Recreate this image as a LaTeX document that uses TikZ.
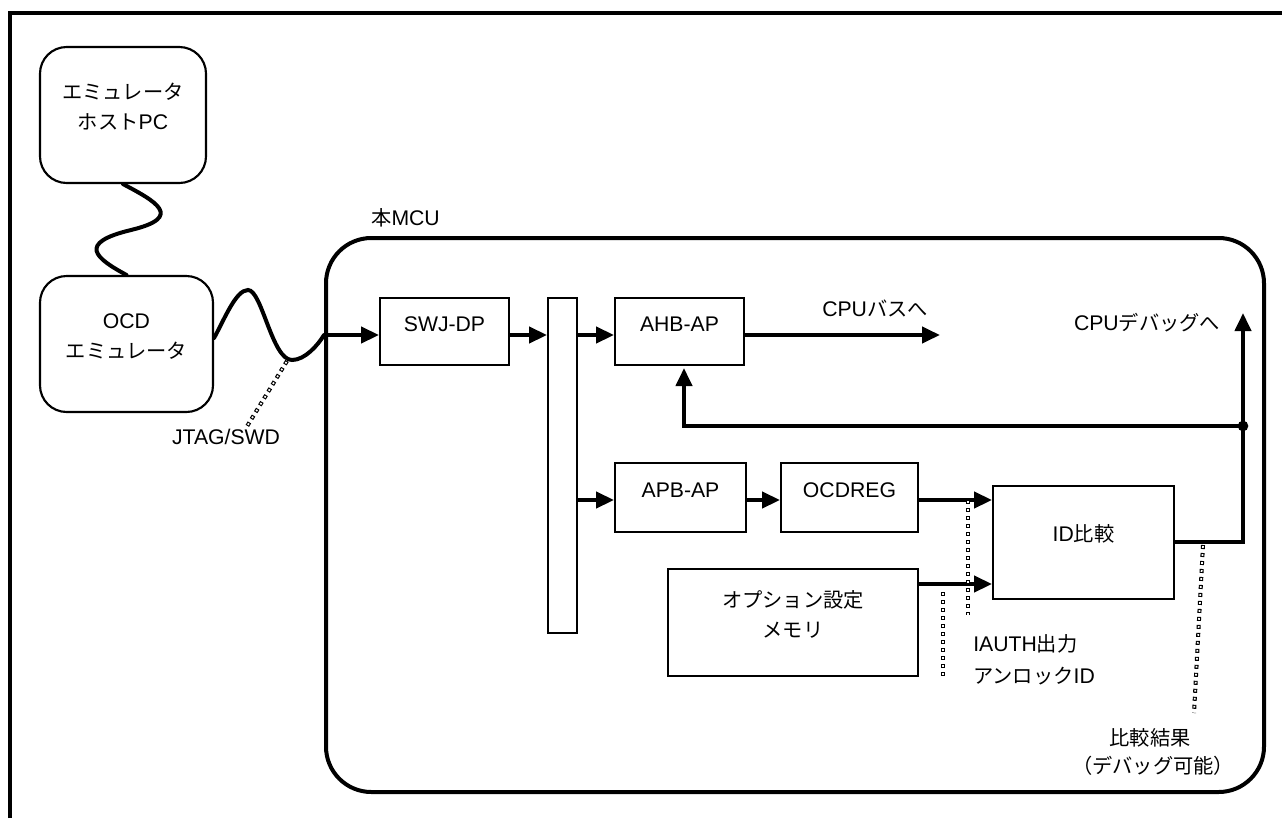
\documentclass[tikz,border=0pt]{standalone}
\usepackage{fontspec}
\setmainfont{Liberation Sans}
\newfontfamily\jpfont{Noto Sans CJK JP}[Scale=0.955]
\newcommand\J[1]{{\jpfont #1}}
\usetikzlibrary{arrows.meta,fit}
\newcommand\ldline[2]{\draw[ldout] (#1) -- (#2); \draw[ldin] (#1) -- (#2);}
\begin{document}
\begin{tikzpicture}[x=0.75pt,y=-0.75pt,
  every node/.style={inner sep=0pt},
  font=\fontsize{15.9pt}{22.5pt}\selectfont,
  box/.style={draw, line width=1.4pt, inner sep=0pt, align=center},
  rbox/.style={draw, line width=1.6pt, rounded corners=20pt, inner sep=0pt, align=center},
  conn/.style={line width=3pt},
  arr/.style={conn, -{Triangle[length=13.5pt,width=12pt]}},
  cable/.style={line width=3pt, line cap=round},
  ldout/.style={line width=3pt, dash pattern=on 3pt off 3pt},
  ldin/.style={white, line width=1.3pt, dash pattern=on 1.3pt off 4.7pt, dash phase=5.15pt},
]
\useasboundingbox (0,0) rectangle (1282,818);
% outer frame
\draw[line width=2.8pt] (10,818) -- (10,13) -- (1282,13);

% left boxes
\node[rbox, fit={(40,47) (206,183)}] (host) {\J{エミュレータ}\\\J{ホスト}PC};
\node[rbox, fit={(40,276) (213,412)}] (ocd) {OCD\\\J{エミュレータ}};

% MCU
\node[draw, line width=3pt, rounded corners=34pt, inner sep=0pt, fit={(326,238) (1264,792)}] (mcu) {};
\node[anchor=west] (mculbl) at (371,218) {\J{本}MCU};

% blocks
\node[box, fit={(380,298) (509,365)}] (swj) {SWJ-DP};
\node[box, fit={(548,298) (577,633)}] (bar) {};
\node[box, fit={(615,298) (744,365)}] (ahb) {AHB-AP};
\node[box, fit={(615,463) (746,532)}] (apb) {APB-AP};
\node[box, fit={(781,463) (918,532)}] (ocdreg) {OCDREG};
\node[box, fit={(993,486) (1174,599)}] (id) {ID\J{比較}};
\node[box, fit={(668,569) (918,676)}] (opt) {\J{オプション設定}\\\J{メモリ}};

% row coordinates
\coordinate (r1) at (0,335);
\coordinate (r2) at (0,500);
\coordinate (r3) at (0,584);
\coordinate (r4) at (0,542);
\coordinate (cpubus) at (940,335);
\coordinate (cpudbg) at (1243,313);
\coordinate (jn) at (1243,426);
\coordinate (fb) at (684,368);

% cables
\draw[cable] (host.south) .. controls (155,201) and (185,217) .. (131,230)
  .. controls (77,243) and (95,258) .. (ocd.north);
\draw[cable] (ocd.east |- 0,338) .. controls (225,318) and (236,290) .. (248,290)
  .. controls (262,290) and (272,360) .. (292,360)
  .. controls (305,360) and (318,345) .. (mcu.west |- r1);

% connectors
\draw[arr] (mcu.west |- r1) -- (swj.west |- r1);
\draw[arr] (swj.east |- r1) -- (bar.west |- r1);
\draw[arr] (bar.east |- r1) -- (ahb.west |- r1);
\draw[arr] (ahb.east |- r1) -- (cpubus);
\draw[arr] (bar.east |- r2) -- (apb.west |- r2);
\draw[arr] (apb.east |- r2) -- (ocdreg.west |- r2);
\draw[arr] (ocdreg.east |- r2) -- (id.west |- r2);
\draw[arr] (opt.east |- r3) -- (id.west |- r3);
\draw[arr] (id.east |- r4) -| (cpudbg);
\draw[arr] (jn) -| (fb);
\fill (jn) circle (4pt);

% labels
\node (lbus) at (875,308) {CPU\J{バスへ}};
\node (ldbg) at (1147,323) {CPU\J{デバッグへ}};
\node (ljtag) at (226,437) {JTAG/SWD};
\node[anchor=west] (liauth) at (973,644) {IAUTH\J{出力}};
\node[anchor=west] (lunlock) at (973,676) {\J{アンロック}ID};
\node (lres1) at (1150,738) {\J{比較結果}};
\node (lres2) at (1153,766) {\J{（デバッグ可能）}};

% leaders
\coordinate (la1) at (287,361); \coordinate (la2) at (246,428);
\coordinate (lb1) at (968,500); \coordinate (lb2) at (968,615);
\coordinate (lc1) at (943,592); \coordinate (lc2) at (943,677);
\coordinate (ld1) at (1203,545); \coordinate (ld2) at (1194,713);
\ldline{la1}{la2}
\ldline{lb1}{lb2}
\ldline{lc1}{lc2}
\ldline{ld1}{ld2}
\end{tikzpicture}
\end{document}
